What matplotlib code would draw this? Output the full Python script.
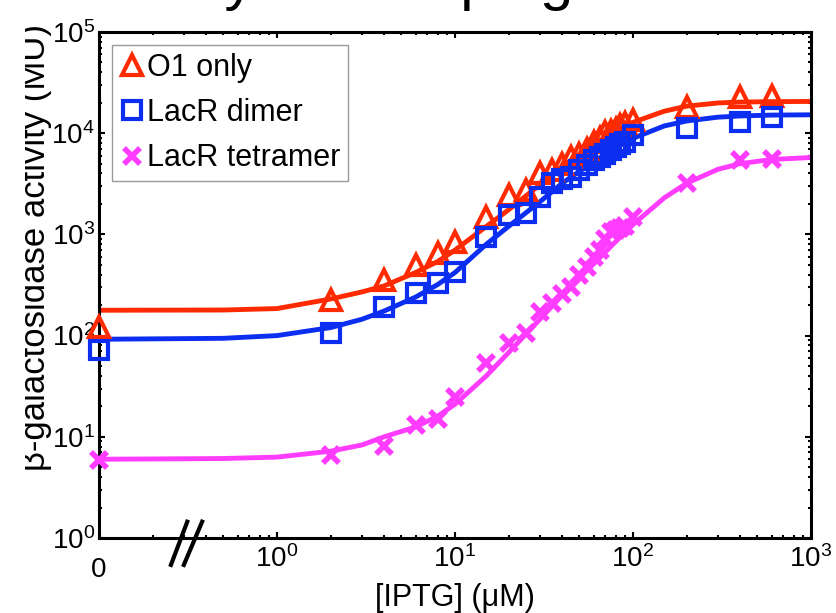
import numpy as np
import matplotlib.pyplot as plt
from matplotlib.lines import Line2D
from matplotlib.transforms import Bbox, TransformedBbox, blended_transform_factory

plt.rcParams['font.family'] = ['Liberation Sans', 'DejaVu Sans']
plt.rcParams['mathtext.fontset'] = 'custom'
plt.rcParams['mathtext.rm'] = 'Liberation Sans'
plt.rcParams['mathtext.it'] = 'Liberation Sans:italic'
plt.rcParams['mathtext.bf'] = 'Liberation Sans:bold'

# measured activity vs IPTG (uM)
iptg = np.array([0, 2, 4, 6, 8, 10, 15, 20, 25, 30, 35, 40, 45, 50, 55, 60,
                 65, 70, 75, 80, 85, 90, 100, 200, 400, 600])
o1_only = np.array([122, 224, 355, 500, 660, 840, 1480, 2450, 2750, 4000, 4350,
                    5000, 5800, 6300, 7000, 8150, 9000, 10300, 10500, 11000,
                    12000, 12500, 13500, 18000, 23000, 23500])
dimer = np.array([72, 106, 192, 263, 331, 426, 940, 1550, 1620, 2340, 3220,
                  3500, 3700, 4350, 4800, 5400, 5800, 6300, 6800, 7300, 7800,
                  8200, 9600, 11200, 12900, 14400])
tetramer = np.array([5.9, 6.6, 8.1, 13, 15, 25, 54, 84, 106, 171, 210, 260, 300,
                     400, 480, 600, 700, 900, 1050, 1100, 1150, 1200, 1480,
                     3200, 5400, 5500])

# fitted curves
fit_iptg = np.array([0, 0.5, 1, 2, 3, 4, 6, 8, 10, 15, 20, 30, 40, 50, 60, 80,
                     100, 150, 200, 300, 400, 600, 1000])
fit_o1 = np.array([178, 179, 185, 230, 270, 310, 420, 540, 700, 1200, 1750, 3100,
                   4700, 6200, 7700, 10500, 12800, 16500, 18500, 19900, 20300,
                   20500, 20600])
fit_dimer = np.array([92, 94, 100, 120, 145, 175, 240, 320, 420, 800, 1200, 2100,
                      3200, 4200, 5200, 7200, 8900, 11800, 13200, 14400, 14800,
                      15100, 15200])
fit_tetramer = np.array([6.0, 6.1, 6.3, 7.2, 8.3, 10, 12.5, 16, 21, 40, 68, 145,
                         250, 370, 510, 850, 1250, 2300, 3200, 4400, 5000, 5500,
                         5750])

series_names = ['O1 only', 'LacR dimer', 'LacR tetramer']
x_ticks = [0, 1, 10, 100, 1000]
x_ticklabels = ['', r'$10^{0}$', r'$10^{1}$', r'$10^{2}$', r'$10^{3}$']
y_ticks = [1, 10, 100, 1e3, 1e4, 1e5]
y_ticklabels = [r'$10^{%d}$' % k for k in range(6)]

ZERO_POS = 0.1   # where IPTG = 0 sits on the broken log axis


def xpos(x):
    x = np.asarray(x, dtype=float)
    return np.where(x == 0, ZERO_POS, x)


red = '#ff2a00'
blue = '#0b2ef0'
magenta = '#ff3cff'

fig = plt.figure(figsize=(8.37, 6.13), dpi=100)
ax = fig.add_axes([99 / 837, 75 / 613, 712 / 837, 506 / 613])
ax.set_xscale('log')
ax.set_yscale('log')

ax.plot(xpos(fit_iptg), fit_o1, '-', color=red, lw=3.5, zorder=2)
ax.plot(xpos(fit_iptg), fit_dimer, '-', color=blue, lw=3.5, zorder=2)
ax.plot(xpos(fit_iptg), fit_tetramer, '-', color=magenta, lw=3.5, zorder=2)

ax.plot(xpos(iptg), o1_only, '^', ms=14, mew=3, mfc='none', mec=red,
        clip_on=False, zorder=3)
ax.plot(xpos(iptg), dimer, 's', ms=12.5, mew=3, mfc='none', mec=blue,
        clip_on=False, zorder=3)
ax.plot(xpos(iptg), tetramer, 'x', ms=11, mew=4, mec=magenta,
        clip_on=False, zorder=3)

ax.set_xlim(ZERO_POS, 1000)
ax.set_ylim(1, 1e5)
ax.set_xticks(xpos(x_ticks))
ax.set_xticklabels(x_ticklabels)
ax.set_yticks(y_ticks)
ax.set_yticklabels(y_ticklabels)

for s in ax.spines.values():
    s.set_linewidth(2.2)
ax.tick_params(which='both', direction='in', top=True, right=True, width=1.5)
ax.tick_params(which='major', length=4.5, labelsize=20)
ax.tick_params(axis='x', which='major', pad=5)
ax.tick_params(axis='y', which='major', pad=3)
ax.tick_params(which='minor', length=2.2)

# "0" label for the zero position, on the same baseline as the "10" digits
xdata_yaxes = blended_transform_factory(ax.transData, ax.transAxes)
ax.text(ZERO_POS, -0.077, '0', transform=xdata_yaxes, fontsize=20,
        ha='center', va='baseline')

# axis break "//"
for x0, x1 in [(0.100, 0.125), (0.118, 0.146)]:
    ax.plot([x0, x1], [-0.057, 0.036], transform=ax.transAxes, color='black',
            lw=3, clip_on=False, solid_capstyle='butt', zorder=5)

ax.set_xlabel('[IPTG] (μM)', fontsize=22)
ax.xaxis.set_label_coords(0.5, -0.089)
ylab = ax.set_ylabel('β-galactosidase activity (MU)', fontsize=25)
ax.yaxis.set_label_coords(-0.066, 0.575)
ylab.set_clip_on(True)
ylab.set_clip_box(TransformedBbox(Bbox.from_extents(25 / 837, 0, 1, 1),
                                  fig.transFigure))

handles = [
    Line2D([], [], ls='none', marker='^', ms=14, mew=3, mfc='none', mec=red),
    Line2D([], [], ls='none', marker='s', ms=12.5, mew=3, mfc='none', mec=blue),
    Line2D([], [], ls='none', marker='x', ms=11, mew=4, mec=magenta),
]
leg = ax.legend(handles, series_names, loc='upper left',
                bbox_to_anchor=(0.018, 0.974), borderaxespad=0, fontsize=22,
                handlelength=0.8, handletextpad=0.1, borderpad=0.25,
                labelspacing=0.5, fancybox=False, framealpha=1)
leg.get_frame().set_edgecolor('#999999')
leg.get_frame().set_linewidth(1.0)

# heading sits above the top edge, only its descenders show
fig.text(65 / 837, 1 + 1 / 613, 'Activity w/o looping', fontsize=43,
         ha='left', va='baseline')

fig.savefig('out.png', dpi=100)
